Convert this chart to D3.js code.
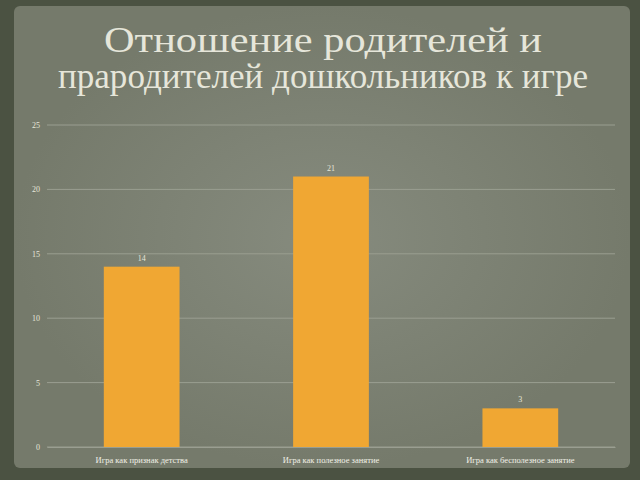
<!DOCTYPE html>
<html><head><meta charset="utf-8">
<script src="https://d3js.org/d3.v7.min.js"></script>
<style>body{margin:0;background:#3f4536}</style></head>
<body><svg id="c" width="640" height="480"></svg>
<script>
const categories = ["Игра как признак детства","Игра как полезное занятие","Игра как бесполезное занятие"];
const values = [14, 21, 3];
const yTicks = [0,5,10,15,20,25];
const titleLines = ["Отношение родителей и","прародителей дошкольников к игре"];
const titleWidths = [438, 530];

const svg = d3.select("#c");
const defs = svg.append("defs");
const g1 = defs.append("radialGradient").attr("id","bg");
g1.append("stop").attr("offset","0%").attr("stop-color","#868b7e");
g1.append("stop").attr("offset","100%").attr("stop-color","#757a6b");
svg.append("rect").attr("width",640).attr("height",480).attr("fill","#4b5242");
svg.append("rect").attr("x",14).attr("y",6).attr("width",616).attr("height",462).attr("rx",6).attr("fill","url(#bg)");

svg.selectAll("text.t").data(titleLines).join("text")
  .attr("x",323).attr("y",(d,i)=>52+i*36).attr("text-anchor","middle")
  .attr("font-family","Liberation Serif, serif").attr("font-size",36)
  .attr("textLength",(d,i)=>titleWidths[i]).attr("lengthAdjust","spacingAndGlyphs")
  .attr("fill","#e6e6da").text(d=>d);

const x = d3.scaleBand().domain(categories).range([47,615]).paddingInner(0.6).paddingOuter(0.3);
const y = d3.scaleLinear().domain([0,25]).range([447,125]);

svg.selectAll("line.g").data(yTicks).join("line")
  .attr("x1",47).attr("x2",615).attr("y1",d=>y(d)).attr("y2",d=>y(d))
  .attr("stroke","#9a9e91").attr("stroke-width",1);

const ya = svg.append("g").attr("transform","translate(40,0)")
  .call(d3.axisLeft(y).tickValues(yTicks).tickSize(0).tickPadding(0));
ya.select(".domain").remove();
ya.selectAll("text").attr("font-family","Liberation Serif, serif").attr("font-size",8).attr("fill","#e6e6da");

svg.selectAll("rect.b").data(values).join("rect")
  .attr("x",(d,i)=>x(categories[i])).attr("width",x.bandwidth())
  .attr("y",d=>y(d)).attr("height",d=>y(0)-y(d)).attr("fill","#f0a733");

svg.selectAll("text.v").data(values).join("text")
  .attr("x",(d,i)=>x(categories[i])+x.bandwidth()/2).attr("y",d=>y(d)-6)
  .attr("text-anchor","middle").attr("font-family","Liberation Serif, serif")
  .attr("font-size",8).attr("fill","#e6e6da").text(d=>d);

const xa = svg.append("g").attr("transform","translate(0,447)")
  .call(d3.axisBottom(x).tickSize(0).tickPadding(10));
xa.select(".domain").attr("stroke","#9a9e91");
xa.selectAll("text").attr("font-family","Liberation Serif, serif").attr("font-size",8.5).attr("fill","#f0f0e6");
</script></body></html>
